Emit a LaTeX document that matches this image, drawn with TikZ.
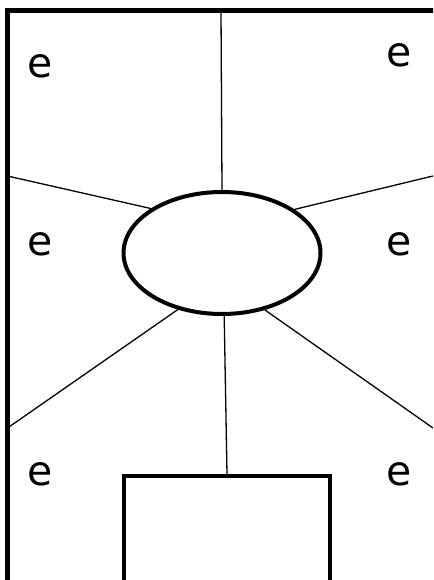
\documentclass[tikz,border=0pt]{standalone}
\usepackage{fontspec}
\setmainfont{DejaVu Sans}
\usetikzlibrary{shapes.geometric}
\tikzset{
  frame/.style={line width=5pt, line join=miter},
  hubshape/.style={ellipse, draw, line width=4pt, minimum width=197pt, minimum height=122pt, inner sep=0pt},
  boxshape/.style={rectangle, draw, line width=4.3pt, minimum width=206pt, minimum height=300pt, inner sep=0pt},
  spoke/.style={line width=1.3pt},
  lbl/.style={font=\fontsize{41}{41}\selectfont, inner sep=0pt, anchor=center}
}
\begin{document}
\begin{tikzpicture}[x=1pt, y=-1pt]
\useasboundingbox (0,0) rectangle (433,580);
\clip (0,0) rectangle (433,580);
\fill[white] (0,0) rectangle (433,580);
% frame
\draw[frame] (7.5,700) -- (7.5,10.5) -- (600,10.5);
% nodes
\node[hubshape] (hub) at (222,253) {};
\node[boxshape, anchor=north] (box) at (227,474) {};
% free ends
\coordinate (ctop) at (221,10.5);
\coordinate (cul) at (7.5,176);
\coordinate (cur) at (433,176);
\coordinate (cll) at (7.5,428);
\coordinate (clr) at (433,428);
% spokes
\draw[spoke] (ctop) -- (hub.90);
\draw[spoke] (cul) -- (hub.148.6);
\draw[spoke] (cur) -- (hub.31.4);
\draw[spoke] (cll) -- (hub.232.6);
\draw[spoke] (clr) -- (hub.307);
\draw[spoke] (hub.272) -- (box.north);
% labels
\node[lbl] (e1) at (40,66) {e};
\node[lbl] (e2) at (399,55) {e};
\node[lbl] (e3) at (40,244) {e};
\node[lbl] (e4) at (399,244) {e};
\node[lbl] (e5) at (40,474) {e};
\node[lbl] (e6) at (399,474) {e};
\end{tikzpicture}
\end{document}
